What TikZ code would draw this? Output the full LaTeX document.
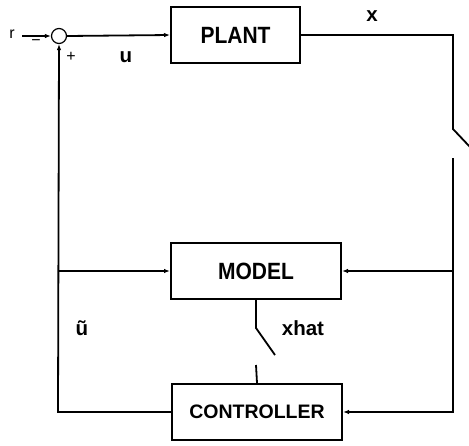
\documentclass[tikz,border=0pt]{standalone}
\usepackage{fontspec}
\setmainfont{Liberation Sans}
\usetikzlibrary{arrows.meta}
\begin{document}
\begin{tikzpicture}[x=1pt,y=-1pt,
  line width=1.8pt,
  arr/.style={-{Latex[length=6pt,width=4.5pt]}},
  blk/.style={draw,line width=2pt,inner sep=0pt,font=\fontsize{21}{24}\selectfont\bfseries},
  lbl/.style={inner sep=0pt,font=\fontsize{20.5}{22}\selectfont\bfseries},
  sml/.style={inner sep=0pt,font=\fontsize{16}{18}\selectfont}]
\useasboundingbox (0,0) rectangle (469,445);
\node[draw,circle,line width=1.2pt,minimum size=15pt,inner sep=0pt] (sum) at (59,36) {};
\node[blk,minimum width=129pt,minimum height=56pt] (plant) at (235.5,35) {\scalebox{1}[1.12]{PLANT}};
\node[blk,minimum width=170pt,minimum height=56pt] (model) at (256,271) {\scalebox{1}[1.12]{MODEL}};
\node[blk,minimum width=170pt,minimum height=56pt,font=\fontsize{19.5}{22}\selectfont\bfseries] (ctrl) at (257,412) {CONTROLLER};
\node[sml] (r) at (12,34) {r};
\node[sml] (minus) at (36,42.5) {−};
\node[sml] (plus) at (71,57) {+};
\node[lbl] (u) at (126,57) {u};
\node[lbl] (x) at (372,16) {x};
\node[lbl] (ut) at (82,328) {ũ};
\node[lbl] (xh) at (303,328) {xhat};
\coordinate (rs) at (22,36);
\coordinate (tr) at (453,35);
\coordinate (s1a) at (453,129);
\coordinate (s1b) at (470,147);
\coordinate (s1c) at (453,158);
\coordinate (br) at (453,412);
\coordinate (mr) at (453,271);
\coordinate (bl) at (58,412);
\coordinate (ml) at (58,271);
\coordinate (s2a) at (256,328);
\coordinate (s2b) at (275,355);
\coordinate (s2c) at (256,365);
\draw[arr] (rs) -- (sum.west);
\draw[arr] (sum.east) -- (plant.west);
\draw (plant.east) -- (tr) -- (s1a) -- (s1b);
\draw[arr] (s1c) -- (br) -- (ctrl.east);
\draw[arr] (mr) -- (model.east);
\draw[arr] (ctrl.west) -- (bl) -- (sum.south);
\draw[arr] (ml) -- (model.west);
\draw (model.south) -- (s2a) -- (s2b);
\draw (s2c) -- (ctrl.north);
\end{tikzpicture}
\end{document}
